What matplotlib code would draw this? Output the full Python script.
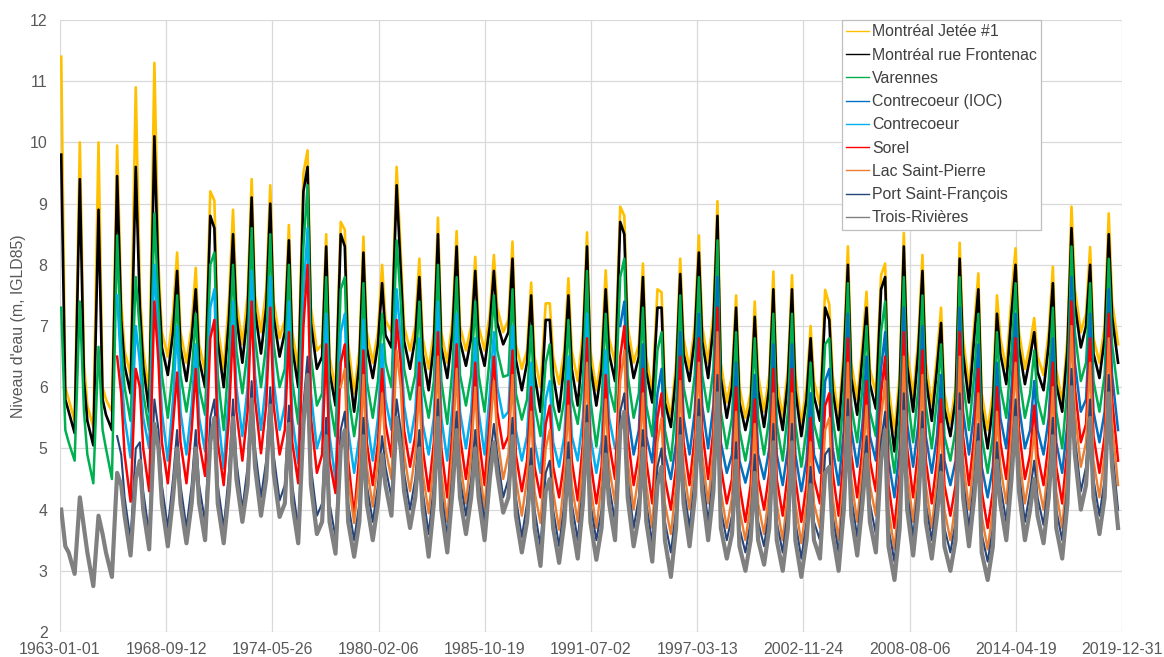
import matplotlib
matplotlib.use("Agg")
import matplotlib.pyplot as plt
from datetime import date

plt.rcParams['font.family'] = ['Liberation Sans', 'DejaVu Sans']

# four samples per year: late January (winter), mid April (spring flood),
# late June (early summer), mid October (low water)
SAMPLE_DAYS = [(1, 25), (4, 15), (6, 20), (10, 15)]

# 1963-2019
montreal_jetee = [
    11.4, 6.0, 5.8, 5.45, 10.0, 6.4, 5.7, 5.35, 10.0, 6.0, 5.8, 5.6,
    9.95, 7.4, 6.6, 6.2, 10.9, 7.6, 6.6, 5.9, 11.3, 8.0, 6.9, 6.5,
    7.2, 8.2, 6.9, 6.4, 7.0, 7.95, 6.7, 6.25, 9.2, 9.05, 7.0, 6.3,
    7.4, 8.9, 7.4, 6.7, 7.5, 9.4, 7.5, 6.9, 7.6, 9.3, 7.4, 6.8,
    7.1, 8.65, 6.9, 6.3, 9.5, 9.87, 7.3, 6.6, 6.7, 8.5, 6.5, 5.95,
    8.7, 8.57, 6.7, 5.9, 6.6, 8.46, 6.9, 6.4, 6.9, 8.0, 7.1, 6.9,
    9.6, 8.2, 7.0, 6.6, 7.0, 8.1, 6.8, 6.3, 6.9, 8.77, 6.9, 6.4,
    7.1, 8.55, 7.0, 6.6, 7.0, 8.13, 7.0, 6.6, 7.2, 8.16, 7.3, 6.9,
    7.1, 8.38, 6.7, 6.3, 6.6, 7.71, 6.5, 6.0, 7.37, 7.37, 6.5, 6.05,
    6.6, 7.78, 6.6, 6.1, 6.9, 8.53, 6.6, 5.95, 6.5, 7.91, 6.8, 6.4,
    8.95, 8.8, 7.0, 6.4, 6.7, 8.02, 6.5, 5.9, 7.6, 7.55, 6.0, 5.5,
    6.4, 8.1, 6.8, 6.3, 7.0, 8.48, 7.0, 6.4, 7.2, 9.04, 6.4, 5.75,
    6.2, 7.5, 6.0, 5.5, 5.9, 7.4, 6.2, 5.6, 6.2, 7.89, 6.1, 5.5,
    6.3, 7.83, 6.2, 5.4, 6.0, 7.0, 6.1, 5.7, 7.59, 7.35, 6.2, 5.5,
    6.6, 8.3, 6.4, 5.8, 6.7, 7.56, 6.3, 5.9, 7.83, 8.02, 6.0, 5.26,
    6.2, 8.52, 6.6, 5.85, 6.8, 8.16, 6.4, 5.7, 6.5, 7.3, 5.9, 5.4,
    6.0, 8.36, 6.8, 6.0, 7.0, 7.86, 5.9, 5.3, 5.9, 7.5, 6.8, 6.3,
    7.5, 8.27, 6.9, 6.3, 6.7, 7.13, 6.5, 6.2, 6.9, 7.97, 6.3, 5.75,
    6.8, 8.95, 7.6, 6.9, 7.2, 8.29, 6.8, 6.4, 7.0, 8.84, 7.4, 6.7,
]

# 1963-2019
montreal_frontenac = [
    9.8, 5.8, 5.6, 5.25, 9.4, 6.1, 5.45, 5.05, 8.9, 5.8, 5.55, 5.3,
    9.45, 7.1, 6.35, 5.9, 9.6, 7.3, 6.35, 5.6, 10.1, 7.7, 6.65, 6.2,
    6.9, 7.9, 6.65, 6.1, 6.8, 7.6, 6.45, 6.0, 8.8, 8.6, 6.75, 6.0,
    7.1, 8.5, 7.15, 6.4, 7.2, 9.1, 7.25, 6.55, 7.3, 9.0, 7.15, 6.5,
    6.9, 8.4, 6.65, 6.0, 9.2, 9.6, 7.05, 6.3, 6.5, 8.3, 6.25, 5.7,
    8.5, 8.3, 6.45, 5.6, 6.4, 8.2, 6.65, 6.15, 6.7, 7.7, 6.85, 6.65,
    9.3, 7.9, 6.75, 6.3, 6.8, 7.8, 6.55, 5.95, 6.7, 8.5, 6.65, 6.15,
    6.9, 8.3, 6.75, 6.35, 6.8, 7.9, 6.75, 6.35, 7.0, 7.9, 7.05, 6.7,
    6.9, 8.1, 6.45, 5.95, 6.4, 7.5, 6.2, 5.6, 7.1, 7.1, 6.2, 5.6,
    6.4, 7.5, 6.3, 5.7, 6.7, 8.3, 6.35, 5.7, 6.3, 7.6, 6.55, 6.1,
    8.7, 8.5, 6.75, 6.15, 6.5, 7.8, 6.25, 5.75, 7.3, 7.3, 5.75, 5.35,
    6.2, 7.85, 6.55, 6.1, 6.8, 8.2, 6.75, 6.15, 7.0, 8.8, 6.15, 5.5,
    6.0, 7.3, 5.75, 5.3, 5.7, 7.15, 5.95, 5.35, 6.0, 7.6, 5.85, 5.3,
    6.1, 7.6, 5.95, 5.2, 5.8, 6.8, 5.85, 5.45, 7.3, 7.1, 5.95, 5.3,
    6.4, 8.0, 6.15, 5.55, 6.5, 7.3, 6.05, 5.65, 7.6, 7.8, 5.75, 4.95,
    6.0, 8.3, 6.35, 5.6, 6.6, 7.9, 6.15, 5.45, 6.3, 7.05, 5.65, 5.2,
    5.8, 8.1, 6.55, 5.75, 6.8, 7.6, 5.65, 5.0, 5.7, 7.2, 6.55, 6.05,
    7.2, 8.0, 6.65, 6.05, 6.5, 6.9, 6.25, 5.95, 6.7, 7.7, 6.05, 5.6,
    6.6, 8.6, 7.35, 6.65, 7.0, 8.0, 6.55, 6.15, 6.8, 8.5, 7.15, 6.4,
]

# 1963-2019
varennes = [
    7.3, 5.3, 5.1, 4.8, 7.4, 5.6, 4.9, 4.43, 6.66, 5.3, 5.0, 4.5,
    8.48, 6.7, 6.0, 5.45, 7.8, 6.9, 5.9, 5.3, 8.84, 7.3, 6.2, 5.5,
    6.3, 7.5, 6.2, 5.6, 6.2, 7.2, 6.0, 5.55, 8.0, 8.2, 6.2, 5.3,
    6.5, 8.0, 6.6, 5.9, 6.6, 8.6, 6.8, 6.0, 6.7, 8.5, 6.7, 6.0,
    6.3, 8.0, 6.1, 5.4, 8.3, 9.3, 6.5, 5.7, 5.9, 7.8, 5.8, 5.2,
    7.6, 7.8, 5.9, 5.2, 5.8, 7.7, 6.1, 5.5, 6.1, 7.2, 6.4, 6.0,
    8.4, 7.4, 6.3, 5.8, 6.2, 7.4, 6.0, 5.5, 6.1, 8.0, 6.1, 5.4,
    6.3, 7.8, 6.2, 5.7, 6.2, 7.4, 6.2, 5.6, 6.5, 7.5, 6.6, 6.17,
    6.2, 7.6, 5.9, 5.47, 5.8, 7.0, 5.7, 5.2, 6.4, 6.7, 5.7, 5.3,
    5.8, 7.1, 5.8, 5.4, 6.1, 7.9, 5.8, 5.03, 5.7, 7.2, 6.0, 5.6,
    7.8, 8.1, 6.2, 5.5, 5.9, 7.3, 5.7, 5.2, 6.6, 6.9, 5.3, 4.8,
    5.7, 7.5, 6.0, 5.5, 6.2, 7.8, 6.2, 5.6, 6.3, 8.4, 5.6, 5.0,
    5.5, 6.9, 5.3, 4.8, 5.3, 6.8, 5.5, 4.9, 5.5, 7.2, 5.4, 4.8,
    5.6, 7.2, 5.4, 4.7, 5.3, 6.4, 5.4, 5.0, 6.7, 6.8, 5.5, 4.8,
    5.9, 7.7, 5.7, 5.1, 6.0, 7.0, 5.6, 5.2, 6.9, 7.4, 5.3, 4.6,
    5.5, 7.8, 5.9, 5.1, 6.0, 7.5, 5.7, 5.0, 5.8, 6.7, 5.2, 4.8,
    5.3, 7.8, 6.1, 5.3, 6.2, 7.2, 5.2, 4.6, 5.2, 6.9, 6.0, 5.5,
    6.6, 7.7, 6.2, 5.5, 5.9, 6.6, 5.8, 5.4, 6.1, 7.3, 5.6, 5.0,
    6.0, 8.3, 6.9, 6.1, 6.4, 7.7, 6.1, 5.6, 6.2, 8.1, 6.7, 5.9,
]

# 1993-2019
contrecoeur_ioc = [
    7.0, 7.4, 5.6, 4.9, 5.3, 6.7, 5.2, 4.77, 5.9, 6.3, 4.9, 4.5,
    5.1, 6.9, 5.5, 4.9, 5.6, 7.2, 5.7, 5.0, 5.7, 7.8, 5.1, 4.6,
    4.9, 6.4, 4.8, 4.44, 4.8, 6.2, 4.9, 4.5, 5.0, 6.7, 4.9, 4.4,
    5.0, 6.7, 4.9, 4.3, 4.8, 5.9, 4.9, 4.6, 6.1, 6.3, 5.0, 4.4,
    5.3, 7.2, 5.3, 4.7, 5.4, 6.5, 5.2, 4.8, 6.3, 6.9, 4.8, 4.2,
    5.0, 7.3, 5.4, 4.7, 5.4, 7.0, 5.2, 4.6, 5.2, 6.2, 4.8, 4.4,
    4.8, 7.3, 5.6, 4.9, 5.6, 6.7, 4.7, 4.2, 4.7, 6.4, 5.5, 5.0,
    6.0, 7.2, 5.7, 5.0, 5.3, 6.1, 5.3, 4.9, 5.5, 6.8, 5.1, 4.6,
    5.4, 7.8, 6.4, 5.6, 5.8, 7.2, 5.6, 5.1, 5.6, 7.6, 6.2, 5.3,
]

# 1966-1992
contrecoeur = [
    7.5, 6.3, 5.5, 4.85, 7.0, 6.4, 5.5, 5.0, 8.0, 6.8, 5.6, 4.8,
    5.8, 7.0, 5.6, 4.9, 5.7, 6.7, 5.5, 4.95, 7.3, 7.6, 5.6, 4.67,
    5.9, 7.4, 6.0, 5.2, 6.0, 7.9, 6.2, 5.3, 6.1, 7.8, 6.1, 5.3,
    5.7, 7.4, 5.5, 4.76, 7.5, 8.6, 5.9, 5.0, 5.3, 7.2, 5.2, 4.48,
    6.9, 7.2, 5.3, 4.6, 5.2, 7.1, 5.5, 4.8, 5.5, 6.7, 5.8, 5.3,
    7.6, 6.8, 5.7, 5.1, 5.6, 6.8, 5.4, 4.9, 5.5, 7.4, 5.5, 4.8,
    5.7, 7.2, 5.6, 5.0, 5.6, 6.8, 5.6, 4.9, 5.9, 6.9, 6.0, 5.5,
    5.6, 7.0, 5.3, 4.8, 5.2, 6.4, 5.1, 4.6, 5.8, 6.1, 5.1, 4.7,
    5.2, 6.5, 5.2, 4.8, 5.5, 7.2, 5.2, 4.6, 5.1, 6.6, 5.5, 5.0,
]

# 1966-2019
sorel = [
    6.5, 5.9, 4.9, 4.13, 6.3, 6.0, 5.0, 4.3, 7.4, 6.4, 5.1, 4.43,
    5.4, 6.24, 5.1, 4.43, 5.3, 6.3, 5.1, 4.55, 6.8, 7.1, 5.1, 4.4,
    5.5, 7.0, 5.6, 4.8, 5.6, 7.4, 5.8, 4.92, 5.7, 7.3, 5.7, 4.9,
    5.3, 6.9, 5.1, 4.43, 7.0, 8.0, 5.5, 4.6, 4.9, 6.7, 4.8, 4.27,
    6.4, 6.7, 4.8, 3.9, 4.9, 6.6, 5.1, 4.4, 5.1, 6.3, 5.4, 4.86,
    7.1, 6.4, 5.3, 4.7, 5.2, 6.4, 5.0, 4.3, 5.1, 6.9, 5.0, 4.2,
    5.3, 6.7, 5.2, 4.5, 5.2, 6.4, 5.2, 4.4, 5.5, 6.5, 5.6, 5.0,
    5.2, 6.6, 4.9, 4.3, 4.8, 6.0, 4.7, 4.2, 5.4, 5.7, 4.7, 4.2,
    4.8, 6.1, 4.8, 4.15, 5.1, 6.8, 4.8, 4.1, 4.7, 6.2, 5.1, 4.5,
    6.5, 7.0, 5.2, 4.4, 4.9, 6.3, 4.8, 4.1, 5.5, 5.9, 4.5, 4.0,
    4.7, 6.5, 5.1, 4.4, 5.2, 6.8, 5.3, 4.5, 5.3, 7.3, 4.7, 4.1,
    4.5, 6.0, 4.4, 3.8, 4.4, 5.8, 4.5, 4.0, 4.6, 6.3, 4.5, 3.9,
    4.6, 6.3, 4.5, 3.8, 4.4, 5.5, 4.5, 4.1, 5.7, 5.9, 4.6, 3.9,
    4.9, 6.8, 4.9, 4.2, 5.0, 6.1, 4.8, 4.3, 5.9, 6.5, 4.4, 3.7,
    4.6, 6.9, 5.0, 4.2, 5.0, 6.6, 4.8, 4.1, 4.8, 5.8, 4.4, 3.9,
    4.4, 6.9, 5.2, 4.4, 5.2, 6.3, 4.3, 3.7, 4.3, 6.0, 5.1, 4.5,
    5.6, 6.8, 5.3, 4.5, 4.9, 5.7, 4.9, 4.4, 5.1, 6.4, 4.7, 4.1,
    5.0, 7.4, 6.0, 5.1, 5.4, 6.8, 5.2, 4.6, 5.2, 7.2, 5.8, 4.8,
]

# 1978-2019
lac_saint_pierre = [
    6.0, 6.3, 4.5, 3.78, 4.6, 6.2, 4.7, 4.05, 4.8, 5.9, 5.0, 4.5,
    6.6, 6.0, 4.9, 4.3, 4.9, 6.0, 4.6, 3.94, 4.8, 6.5, 4.6, 3.8,
    5.0, 6.3, 4.8, 4.1, 4.9, 6.0, 4.8, 4.0, 5.2, 6.1, 5.2, 4.5,
    4.9, 6.2, 4.5, 3.9, 4.5, 5.6, 4.3, 3.78, 5.0, 5.3, 4.3, 3.67,
    4.5, 5.7, 4.4, 3.8, 4.8, 6.4, 4.4, 3.7, 4.4, 5.8, 4.7, 4.1,
    6.1, 6.6, 4.8, 4.0, 4.6, 5.9, 4.4, 3.7, 5.1, 5.5, 4.1, 3.6,
    4.4, 6.1, 4.7, 4.0, 4.9, 6.4, 4.9, 4.1, 5.0, 6.9, 4.3, 3.7,
    4.2, 5.6, 4.0, 3.5, 4.1, 5.4, 4.1, 3.6, 4.3, 5.9, 4.1, 3.5,
    4.3, 5.9, 4.1, 3.45, 4.1, 5.1, 4.1, 3.7, 5.3, 5.5, 4.2, 3.5,
    4.6, 6.4, 4.5, 3.8, 4.7, 5.7, 4.4, 3.9, 5.5, 6.1, 4.0, 3.35,
    4.3, 6.5, 4.6, 3.8, 4.7, 6.2, 4.4, 3.7, 4.5, 5.4, 4.0, 3.5,
    4.1, 6.5, 4.8, 4.0, 4.9, 5.9, 3.9, 3.35, 4.0, 5.6, 4.7, 4.1,
    5.2, 6.4, 4.9, 4.1, 4.6, 5.3, 4.5, 4.0, 4.8, 6.0, 4.3, 3.7,
    4.7, 7.0, 5.6, 4.7, 5.1, 6.4, 4.8, 4.2, 4.9, 6.8, 5.4, 4.4,
]

# 1966-2019
port_saint_francois = [
    5.2, 4.9, 4.2, 3.5, 5.0, 5.1, 4.3, 3.6, 5.8, 5.3, 4.4, 3.7,
    4.5, 5.3, 4.4, 3.7, 4.4, 5.3, 4.4, 3.8, 5.5, 5.8, 4.4, 3.7,
    4.6, 5.8, 4.8, 4.0, 4.7, 6.1, 5.0, 4.2, 4.8, 6.0, 4.9, 4.15,
    4.4, 5.7, 4.4, 3.7, 5.7, 6.5, 4.7, 3.9, 4.1, 5.5, 4.1, 3.55,
    5.3, 5.6, 4.1, 3.5, 4.1, 5.5, 4.4, 3.8, 4.4, 5.2, 4.7, 4.2,
    5.8, 5.3, 4.6, 4.0, 4.5, 5.3, 4.3, 3.6, 4.4, 5.8, 4.3, 3.55,
    4.6, 5.6, 4.5, 3.9, 4.5, 5.3, 4.5, 3.8, 4.8, 5.4, 4.9, 4.2,
    4.5, 5.5, 4.2, 3.55, 4.1, 5.0, 4.0, 3.4, 4.6, 4.8, 4.0, 3.4,
    4.1, 5.1, 4.1, 3.5, 4.4, 5.7, 4.1, 3.5, 4.0, 5.2, 4.4, 3.8,
    5.6, 5.9, 4.5, 3.7, 4.2, 5.3, 4.1, 3.45, 4.7, 5.0, 3.8, 3.3,
    4.0, 5.5, 4.4, 3.7, 4.5, 5.8, 4.6, 3.8, 4.6, 6.2, 4.0, 3.5,
    3.9, 5.1, 3.7, 3.3, 3.8, 4.9, 3.8, 3.4, 4.0, 5.4, 3.8, 3.3,
    4.0, 5.4, 3.8, 3.2, 3.8, 4.7, 3.8, 3.5, 4.9, 5.0, 3.9, 3.3,
    4.3, 5.8, 4.2, 3.55, 4.4, 5.2, 4.1, 3.6, 5.1, 5.6, 3.7, 3.15,
    4.0, 5.9, 4.3, 3.55, 4.4, 5.6, 4.1, 3.5, 4.2, 4.9, 3.7, 3.3,
    3.8, 5.9, 4.5, 3.7, 4.5, 5.4, 3.6, 3.15, 3.7, 5.1, 4.4, 3.8,
    4.8, 5.8, 4.6, 3.8, 4.3, 4.8, 4.2, 3.75, 4.5, 5.5, 4.0, 3.5,
    4.4, 6.3, 5.2, 4.3, 4.7, 5.8, 4.5, 3.9, 4.5, 6.2, 5.0, 4.0,
]

# 1963-2019
trois_rivieres = [
    4.0, 3.4, 3.3, 2.95, 4.2, 3.7, 3.3, 2.75, 3.9, 3.6, 3.3, 2.9,
    4.6, 4.4, 3.9, 3.25, 4.5, 4.8, 4.0, 3.35, 5.4, 5.0, 4.1, 3.4,
    4.2, 5.0, 4.1, 3.45, 4.1, 5.0, 4.1, 3.5, 5.1, 5.5, 4.1, 3.45,
    4.3, 5.5, 4.5, 3.8, 4.4, 5.8, 4.7, 3.9, 4.5, 5.7, 4.6, 3.88,
    4.1, 5.4, 4.1, 3.45, 5.4, 6.2, 4.4, 3.6, 3.8, 5.2, 3.8, 3.28,
    5.0, 5.3, 3.8, 3.23, 3.8, 5.2, 4.1, 3.5, 4.1, 4.9, 4.4, 3.9,
    5.5, 5.0, 4.3, 3.7, 4.2, 5.0, 4.0, 3.23, 4.1, 5.5, 4.0, 3.3,
    4.3, 5.3, 4.2, 3.6, 4.2, 5.0, 4.2, 3.5, 4.5, 5.1, 4.6, 3.95,
    4.2, 5.2, 3.9, 3.3, 3.8, 4.7, 3.7, 3.08, 4.3, 4.5, 3.7, 3.13,
    3.8, 4.8, 3.8, 3.2, 4.1, 5.4, 3.8, 3.18, 3.7, 4.9, 4.1, 3.5,
    5.3, 5.6, 4.2, 3.4, 3.9, 5.0, 3.8, 3.15, 4.4, 4.7, 3.5, 2.9,
    3.7, 5.2, 4.1, 3.4, 4.2, 5.5, 4.3, 3.5, 4.3, 5.9, 3.7, 3.2,
    3.6, 4.8, 3.4, 3.0, 3.5, 4.6, 3.5, 3.1, 3.7, 5.1, 3.5, 3.0,
    3.7, 5.1, 3.5, 2.9, 3.5, 4.4, 3.5, 3.2, 4.6, 4.7, 3.6, 3.0,
    4.0, 5.5, 3.9, 3.25, 4.1, 4.9, 3.8, 3.3, 4.8, 5.3, 3.4, 2.85,
    3.7, 5.6, 4.0, 3.25, 4.1, 5.3, 3.8, 3.2, 3.9, 4.6, 3.4, 3.0,
    3.5, 5.6, 4.2, 3.4, 4.2, 5.1, 3.3, 2.85, 3.4, 4.8, 4.1, 3.5,
    4.5, 5.5, 4.3, 3.5, 4.0, 4.5, 3.9, 3.45, 4.2, 5.2, 3.7, 3.2,
    4.1, 6.0, 4.9, 4.0, 4.4, 5.5, 4.2, 3.6, 4.2, 5.9, 4.7, 3.7,
]

series_names = ["Montréal Jetée #1", "Montréal rue Frontenac", "Varennes",
                "Contrecoeur (IOC)", "Contrecoeur", "Sorel", "Lac Saint-Pierre",
                "Port Saint-François", "Trois-Rivières"]
series_values = [montreal_jetee, montreal_frontenac, varennes, contrecoeur_ioc,
                 contrecoeur, sorel, lac_saint_pierre, port_saint_francois, trois_rivieres]
series_years = [(1963, 2019), (1963, 2019), (1963, 2019), (1993, 2019), (1966, 1992),
                (1966, 2019), (1978, 2019), (1966, 2019), (1963, 2019)]
series_colors = ["#FFC000", "#000000", "#00B050", "#0070C0", "#00B0F0",
                 "#FF0000", "#ED7D31", "#264478", "#808080"]
series_widths = [1.9, 1.9, 1.8, 1.8, 1.8, 1.8, 1.7, 1.5, 3.0]

x_tick_labels = ["1963-01-01", "1968-09-12", "1974-05-26", "1980-02-06", "1985-10-19",
                 "1991-07-02", "1997-03-13", "2002-11-24", "2008-08-06", "2014-04-19",
                 "2019-12-31"]
y_ticks = [2, 3, 4, 5, 6, 7, 8, 9, 10, 11, 12]


def sample_dates(y0, y1):
    return [date(y, m, d) for y in range(y0, y1 + 1) for (m, d) in SAMPLE_DAYS]


fig = plt.figure(figsize=(11.64, 6.57), dpi=100)
ax = fig.add_axes([60 / 1164, 1 - 632 / 657, 1062 / 1164, 612 / 657])

for i, (name, vals, (y0, y1), col, lw) in enumerate(
        zip(series_names, series_values, series_years, series_colors, series_widths)):
    dts = sample_dates(y0, y1)
    ax.plot(dts, vals, color=col, lw=lw, label=name, zorder=3 + i)

tick_dates = [date.fromisoformat(s) for s in x_tick_labels]
ax.set_xlim(tick_dates[0], tick_dates[-1])
ax.set_xticks(tick_dates)
ax.set_xticklabels(x_tick_labels)
ax.set_ylim(2, 12)
ax.set_yticks(y_ticks)
ax.set_yticklabels([str(v) for v in y_ticks])

for s in ax.spines.values():
    s.set_visible(False)
ax.grid(True, color="#D9D9D9", lw=0.9, zorder=0)
ax.tick_params(axis='both', length=0, labelsize=11.4, labelcolor="#595959")
ax.tick_params(axis='y', pad=9)
ax.tick_params(axis='x', pad=7)
ax.set_ylabel("Niveau d'eau (m, IGLD85)", fontsize=11.4, color="#595959", labelpad=3)

leg = ax.legend(loc='upper left', bbox_to_anchor=((842 - 60) / 1062, 1.0),
                borderaxespad=0, fontsize=11.4, frameon=True, fancybox=False,
                edgecolor="#BFBFBF", framealpha=1, handlelength=1.4,
                handletextpad=0.2, labelspacing=0.52, borderpad=0.28)
leg.get_frame().set_linewidth(0.9)
for t in leg.get_texts():
    t.set_color("#404040")
for h in leg.get_lines():
    h.set_linewidth(1.0)
leg.set_zorder(20)

fig.savefig("out.png", dpi=100)
